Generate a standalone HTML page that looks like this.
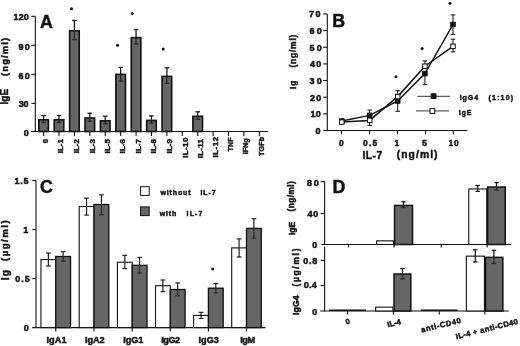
<!DOCTYPE html>
<html><head><meta charset="utf-8"><style>
html,body{margin:0;padding:0;background:#fff;}
svg{display:block;filter:blur(0.35px);}
text{font-family:"Liberation Sans", sans-serif;font-weight:bold;fill:#111;}
</style></head><body>
<svg width="520" height="346" viewBox="0 0 520 346">
<rect width="520" height="346" fill="#fff"/>
<line x1="35.30" y1="16.30" x2="35.30" y2="132.00" stroke="#111" stroke-width="1.1"/>
<line x1="31.40" y1="131.50" x2="268.00" y2="131.50" stroke="#111" stroke-width="1.1"/>
<line x1="31.30" y1="16.30" x2="35.30" y2="16.30" stroke="#111" stroke-width="1.1"/>
<line x1="31.30" y1="45.30" x2="35.30" y2="45.30" stroke="#111" stroke-width="1.1"/>
<line x1="31.30" y1="74.40" x2="35.30" y2="74.40" stroke="#111" stroke-width="1.1"/>
<line x1="31.30" y1="103.40" x2="35.30" y2="103.40" stroke="#111" stroke-width="1.1"/>
<line x1="43.60" y1="131.50" x2="43.60" y2="136.00" stroke="#111" stroke-width="1.1"/>
<rect x="38.80" y="119.80" width="9.60" height="11.70" fill="#666666" stroke="#111" stroke-width="1.6"/>
<line x1="43.60" y1="119.80" x2="43.60" y2="115.50" stroke="#111" stroke-width="1.25"/>
<line x1="41.30" y1="115.50" x2="45.90" y2="115.50" stroke="#111" stroke-width="1.25"/>
<line x1="43.60" y1="119.80" x2="43.60" y2="122.50" stroke="#262626" stroke-width="1.25"/>
<line x1="41.30" y1="122.50" x2="45.90" y2="122.50" stroke="#262626" stroke-width="1.25"/>
<line x1="59.01" y1="131.50" x2="59.01" y2="136.00" stroke="#111" stroke-width="1.1"/>
<rect x="54.21" y="119.80" width="9.60" height="11.70" fill="#666666" stroke="#111" stroke-width="1.6"/>
<line x1="59.01" y1="119.80" x2="59.01" y2="115.50" stroke="#111" stroke-width="1.25"/>
<line x1="56.71" y1="115.50" x2="61.31" y2="115.50" stroke="#111" stroke-width="1.25"/>
<line x1="59.01" y1="119.80" x2="59.01" y2="122.50" stroke="#262626" stroke-width="1.25"/>
<line x1="56.71" y1="122.50" x2="61.31" y2="122.50" stroke="#262626" stroke-width="1.25"/>
<line x1="74.42" y1="131.50" x2="74.42" y2="136.00" stroke="#111" stroke-width="1.1"/>
<rect x="69.62" y="30.80" width="9.60" height="100.70" fill="#666666" stroke="#111" stroke-width="1.6"/>
<line x1="74.42" y1="30.80" x2="74.42" y2="20.50" stroke="#111" stroke-width="1.25"/>
<line x1="72.12" y1="20.50" x2="76.72" y2="20.50" stroke="#111" stroke-width="1.25"/>
<line x1="74.42" y1="30.80" x2="74.42" y2="39.70" stroke="#262626" stroke-width="1.25"/>
<line x1="72.12" y1="39.70" x2="76.72" y2="39.70" stroke="#262626" stroke-width="1.25"/>
<line x1="89.83" y1="131.50" x2="89.83" y2="136.00" stroke="#111" stroke-width="1.1"/>
<rect x="85.03" y="118.00" width="9.60" height="13.50" fill="#666666" stroke="#111" stroke-width="1.6"/>
<line x1="89.83" y1="118.00" x2="89.83" y2="113.20" stroke="#111" stroke-width="1.25"/>
<line x1="87.53" y1="113.20" x2="92.13" y2="113.20" stroke="#111" stroke-width="1.25"/>
<line x1="89.83" y1="118.00" x2="89.83" y2="121.20" stroke="#262626" stroke-width="1.25"/>
<line x1="87.53" y1="121.20" x2="92.13" y2="121.20" stroke="#262626" stroke-width="1.25"/>
<line x1="105.24" y1="131.50" x2="105.24" y2="136.00" stroke="#111" stroke-width="1.1"/>
<rect x="100.44" y="120.80" width="9.60" height="10.70" fill="#666666" stroke="#111" stroke-width="1.6"/>
<line x1="105.24" y1="120.80" x2="105.24" y2="116.20" stroke="#111" stroke-width="1.25"/>
<line x1="102.94" y1="116.20" x2="107.54" y2="116.20" stroke="#111" stroke-width="1.25"/>
<line x1="105.24" y1="120.80" x2="105.24" y2="123.80" stroke="#262626" stroke-width="1.25"/>
<line x1="102.94" y1="123.80" x2="107.54" y2="123.80" stroke="#262626" stroke-width="1.25"/>
<line x1="120.65" y1="131.50" x2="120.65" y2="136.00" stroke="#111" stroke-width="1.1"/>
<rect x="115.85" y="74.40" width="9.60" height="57.10" fill="#666666" stroke="#111" stroke-width="1.6"/>
<line x1="120.65" y1="74.40" x2="120.65" y2="67.40" stroke="#111" stroke-width="1.25"/>
<line x1="118.35" y1="67.40" x2="122.95" y2="67.40" stroke="#111" stroke-width="1.25"/>
<line x1="120.65" y1="74.40" x2="120.65" y2="81.10" stroke="#262626" stroke-width="1.25"/>
<line x1="118.35" y1="81.10" x2="122.95" y2="81.10" stroke="#262626" stroke-width="1.25"/>
<line x1="136.06" y1="131.50" x2="136.06" y2="136.00" stroke="#111" stroke-width="1.1"/>
<rect x="131.26" y="37.60" width="9.60" height="93.90" fill="#666666" stroke="#111" stroke-width="1.6"/>
<line x1="136.06" y1="37.60" x2="136.06" y2="29.60" stroke="#111" stroke-width="1.25"/>
<line x1="133.76" y1="29.60" x2="138.36" y2="29.60" stroke="#111" stroke-width="1.25"/>
<line x1="136.06" y1="37.60" x2="136.06" y2="44.00" stroke="#262626" stroke-width="1.25"/>
<line x1="133.76" y1="44.00" x2="138.36" y2="44.00" stroke="#262626" stroke-width="1.25"/>
<line x1="151.47" y1="131.50" x2="151.47" y2="136.00" stroke="#111" stroke-width="1.1"/>
<rect x="146.67" y="120.40" width="9.60" height="11.10" fill="#666666" stroke="#111" stroke-width="1.6"/>
<line x1="151.47" y1="120.40" x2="151.47" y2="115.90" stroke="#111" stroke-width="1.25"/>
<line x1="149.17" y1="115.90" x2="153.77" y2="115.90" stroke="#111" stroke-width="1.25"/>
<line x1="151.47" y1="120.40" x2="151.47" y2="123.30" stroke="#262626" stroke-width="1.25"/>
<line x1="149.17" y1="123.30" x2="153.77" y2="123.30" stroke="#262626" stroke-width="1.25"/>
<line x1="166.88" y1="131.50" x2="166.88" y2="136.00" stroke="#111" stroke-width="1.1"/>
<rect x="162.08" y="76.40" width="9.60" height="55.10" fill="#666666" stroke="#111" stroke-width="1.6"/>
<line x1="166.88" y1="76.40" x2="166.88" y2="67.80" stroke="#111" stroke-width="1.25"/>
<line x1="164.58" y1="67.80" x2="169.18" y2="67.80" stroke="#111" stroke-width="1.25"/>
<line x1="166.88" y1="76.40" x2="166.88" y2="83.40" stroke="#262626" stroke-width="1.25"/>
<line x1="164.58" y1="83.40" x2="169.18" y2="83.40" stroke="#262626" stroke-width="1.25"/>
<line x1="182.29" y1="131.50" x2="182.29" y2="136.00" stroke="#111" stroke-width="1.1"/>
<line x1="197.70" y1="131.50" x2="197.70" y2="136.00" stroke="#111" stroke-width="1.1"/>
<rect x="192.90" y="116.30" width="9.60" height="15.20" fill="#666666" stroke="#111" stroke-width="1.6"/>
<line x1="197.70" y1="116.30" x2="197.70" y2="111.80" stroke="#111" stroke-width="1.25"/>
<line x1="195.40" y1="111.80" x2="200.00" y2="111.80" stroke="#111" stroke-width="1.25"/>
<line x1="197.70" y1="116.30" x2="197.70" y2="119.20" stroke="#262626" stroke-width="1.25"/>
<line x1="195.40" y1="119.20" x2="200.00" y2="119.20" stroke="#262626" stroke-width="1.25"/>
<line x1="213.11" y1="131.50" x2="213.11" y2="136.00" stroke="#111" stroke-width="1.1"/>
<line x1="228.52" y1="131.50" x2="228.52" y2="136.00" stroke="#111" stroke-width="1.1"/>
<line x1="243.93" y1="131.50" x2="243.93" y2="136.00" stroke="#111" stroke-width="1.1"/>
<line x1="259.34" y1="131.50" x2="259.34" y2="136.00" stroke="#111" stroke-width="1.1"/>
<circle cx="71.50" cy="8.70" r="1.5" fill="#111"/>
<circle cx="117.60" cy="45.20" r="1.5" fill="#111"/>
<circle cx="132.30" cy="13.40" r="1.5" fill="#111"/>
<circle cx="163.20" cy="49.10" r="1.5" fill="#111"/>
<line x1="327.30" y1="14.00" x2="327.30" y2="131.00" stroke="#111" stroke-width="1.1"/>
<line x1="323.20" y1="130.50" x2="467.30" y2="130.50" stroke="#111" stroke-width="1.1"/>
<line x1="323.20" y1="113.85" x2="327.30" y2="113.85" stroke="#111" stroke-width="1.1"/>
<line x1="323.20" y1="97.20" x2="327.30" y2="97.20" stroke="#111" stroke-width="1.1"/>
<line x1="323.20" y1="80.55" x2="327.30" y2="80.55" stroke="#111" stroke-width="1.1"/>
<line x1="323.20" y1="63.90" x2="327.30" y2="63.90" stroke="#111" stroke-width="1.1"/>
<line x1="323.20" y1="47.25" x2="327.30" y2="47.25" stroke="#111" stroke-width="1.1"/>
<line x1="323.20" y1="30.60" x2="327.30" y2="30.60" stroke="#111" stroke-width="1.1"/>
<line x1="323.20" y1="13.95" x2="327.30" y2="13.95" stroke="#111" stroke-width="1.1"/>
<line x1="341.50" y1="130.50" x2="341.50" y2="134.40" stroke="#111" stroke-width="1.1"/>
<line x1="369.60" y1="130.50" x2="369.60" y2="134.40" stroke="#111" stroke-width="1.1"/>
<line x1="397.50" y1="130.50" x2="397.50" y2="134.40" stroke="#111" stroke-width="1.1"/>
<line x1="425.60" y1="130.50" x2="425.60" y2="134.40" stroke="#111" stroke-width="1.1"/>
<line x1="453.30" y1="130.50" x2="453.30" y2="134.40" stroke="#111" stroke-width="1.1"/>
<polyline points="341.80,121.00 369.70,115.40 397.70,101.00 424.90,73.60 453.00,24.50" fill="none" stroke="#111" stroke-width="1.5"/>
<polyline points="341.80,122.10 369.70,120.40 397.70,96.60 424.90,66.20 453.00,46.30" fill="none" stroke="#111" stroke-width="1.5"/>
<line x1="369.70" y1="115.40" x2="369.70" y2="110.00" stroke="#111" stroke-width="1.0"/>
<line x1="367.40" y1="110.00" x2="372.00" y2="110.00" stroke="#111" stroke-width="1.0"/>
<line x1="369.70" y1="120.40" x2="369.70" y2="125.40" stroke="#111" stroke-width="1.0"/>
<line x1="367.40" y1="125.40" x2="372.00" y2="125.40" stroke="#111" stroke-width="1.0"/>
<line x1="397.70" y1="96.60" x2="397.70" y2="90.70" stroke="#111" stroke-width="1.0"/>
<line x1="395.40" y1="90.70" x2="400.00" y2="90.70" stroke="#111" stroke-width="1.0"/>
<line x1="397.70" y1="101.00" x2="397.70" y2="111.30" stroke="#111" stroke-width="1.0"/>
<line x1="395.40" y1="111.30" x2="400.00" y2="111.30" stroke="#111" stroke-width="1.0"/>
<line x1="424.90" y1="66.20" x2="424.90" y2="60.90" stroke="#111" stroke-width="1.0"/>
<line x1="422.60" y1="60.90" x2="427.20" y2="60.90" stroke="#111" stroke-width="1.0"/>
<line x1="424.90" y1="73.60" x2="424.90" y2="84.70" stroke="#111" stroke-width="1.0"/>
<line x1="422.60" y1="84.70" x2="427.20" y2="84.70" stroke="#111" stroke-width="1.0"/>
<line x1="453.00" y1="24.50" x2="453.00" y2="14.90" stroke="#111" stroke-width="1.0"/>
<line x1="450.70" y1="14.90" x2="455.30" y2="14.90" stroke="#111" stroke-width="1.0"/>
<line x1="453.00" y1="24.50" x2="453.00" y2="34.40" stroke="#111" stroke-width="1.0"/>
<line x1="450.70" y1="34.40" x2="455.30" y2="34.40" stroke="#111" stroke-width="1.0"/>
<line x1="453.00" y1="46.30" x2="453.00" y2="39.20" stroke="#111" stroke-width="1.0"/>
<line x1="450.70" y1="39.20" x2="455.30" y2="39.20" stroke="#111" stroke-width="1.0"/>
<line x1="453.00" y1="46.30" x2="453.00" y2="51.90" stroke="#111" stroke-width="1.0"/>
<line x1="450.70" y1="51.90" x2="455.30" y2="51.90" stroke="#111" stroke-width="1.0"/>
<rect x="339.55" y="118.75" width="4.50" height="4.50" fill="#111" stroke="#111" stroke-width="1.0"/>
<rect x="367.45" y="113.15" width="4.50" height="4.50" fill="#111" stroke="#111" stroke-width="1.0"/>
<rect x="395.45" y="98.75" width="4.50" height="4.50" fill="#111" stroke="#111" stroke-width="1.0"/>
<rect x="422.65" y="71.35" width="4.50" height="4.50" fill="#111" stroke="#111" stroke-width="1.0"/>
<rect x="450.75" y="22.25" width="4.50" height="4.50" fill="#111" stroke="#111" stroke-width="1.0"/>
<rect x="339.55" y="119.85" width="4.50" height="4.50" fill="#fff" stroke="#111" stroke-width="1.0"/>
<rect x="367.45" y="118.15" width="4.50" height="4.50" fill="#fff" stroke="#111" stroke-width="1.0"/>
<rect x="395.45" y="94.35" width="4.50" height="4.50" fill="#fff" stroke="#111" stroke-width="1.0"/>
<rect x="422.65" y="63.95" width="4.50" height="4.50" fill="#fff" stroke="#111" stroke-width="1.0"/>
<rect x="450.75" y="44.05" width="4.50" height="4.50" fill="#fff" stroke="#111" stroke-width="1.0"/>
<circle cx="395.90" cy="76.70" r="1.5" fill="#111"/>
<circle cx="422.10" cy="48.50" r="1.5" fill="#111"/>
<circle cx="450.00" cy="3.30" r="1.5" fill="#111"/>
<line x1="417.40" y1="96.30" x2="450.10" y2="96.30" stroke="#333" stroke-width="1.0"/>
<rect x="431.20" y="93.80" width="4.70" height="4.70" fill="#111" stroke="#111" stroke-width="1.0"/>
<line x1="416.10" y1="110.90" x2="449.00" y2="110.90" stroke="#333" stroke-width="1.0"/>
<rect x="430.00" y="108.60" width="4.80" height="4.80" fill="#fff" stroke="#111" stroke-width="1.0"/>
<line x1="36.00" y1="180.50" x2="36.00" y2="328.10" stroke="#111" stroke-width="1.1"/>
<line x1="32.20" y1="327.60" x2="265.50" y2="327.60" stroke="#111" stroke-width="1.1"/>
<line x1="32.20" y1="278.57" x2="36.00" y2="278.57" stroke="#111" stroke-width="1.1"/>
<line x1="32.20" y1="229.54" x2="36.00" y2="229.54" stroke="#111" stroke-width="1.1"/>
<line x1="32.20" y1="180.51" x2="36.00" y2="180.51" stroke="#111" stroke-width="1.1"/>
<line x1="55.75" y1="327.60" x2="55.75" y2="331.60" stroke="#111" stroke-width="1.1"/>
<rect x="40.95" y="259.60" width="14.80" height="68.00" fill="#fff" stroke="#111" stroke-width="1.1"/>
<rect x="55.75" y="256.50" width="14.80" height="71.10" fill="#666666" stroke="#111" stroke-width="1.3"/>
<line x1="48.35" y1="259.60" x2="48.35" y2="253.00" stroke="#111" stroke-width="1.1"/>
<line x1="45.95" y1="253.00" x2="50.75" y2="253.00" stroke="#111" stroke-width="1.1"/>
<line x1="48.35" y1="259.60" x2="48.35" y2="266.00" stroke="#111" stroke-width="1.1"/>
<line x1="45.95" y1="266.00" x2="50.75" y2="266.00" stroke="#111" stroke-width="1.1"/>
<line x1="63.15" y1="256.50" x2="63.15" y2="251.80" stroke="#111" stroke-width="1.1"/>
<line x1="60.75" y1="251.80" x2="65.55" y2="251.80" stroke="#111" stroke-width="1.1"/>
<line x1="63.15" y1="256.50" x2="63.15" y2="261.20" stroke="#262626" stroke-width="1.1"/>
<line x1="60.75" y1="261.20" x2="65.55" y2="261.20" stroke="#262626" stroke-width="1.1"/>
<line x1="94.00" y1="327.60" x2="94.00" y2="331.60" stroke="#111" stroke-width="1.1"/>
<rect x="79.20" y="206.50" width="14.80" height="121.10" fill="#fff" stroke="#111" stroke-width="1.1"/>
<rect x="94.00" y="204.50" width="14.80" height="123.10" fill="#666666" stroke="#111" stroke-width="1.3"/>
<line x1="86.60" y1="206.50" x2="86.60" y2="198.10" stroke="#111" stroke-width="1.1"/>
<line x1="84.20" y1="198.10" x2="89.00" y2="198.10" stroke="#111" stroke-width="1.1"/>
<line x1="86.60" y1="206.50" x2="86.60" y2="215.10" stroke="#111" stroke-width="1.1"/>
<line x1="84.20" y1="215.10" x2="89.00" y2="215.10" stroke="#111" stroke-width="1.1"/>
<line x1="101.40" y1="204.50" x2="101.40" y2="194.90" stroke="#111" stroke-width="1.1"/>
<line x1="99.00" y1="194.90" x2="103.80" y2="194.90" stroke="#111" stroke-width="1.1"/>
<line x1="101.40" y1="204.50" x2="101.40" y2="214.80" stroke="#262626" stroke-width="1.1"/>
<line x1="99.00" y1="214.80" x2="103.80" y2="214.80" stroke="#262626" stroke-width="1.1"/>
<line x1="132.20" y1="327.60" x2="132.20" y2="331.60" stroke="#111" stroke-width="1.1"/>
<rect x="117.40" y="262.20" width="14.80" height="65.40" fill="#fff" stroke="#111" stroke-width="1.1"/>
<rect x="132.20" y="265.30" width="14.80" height="62.30" fill="#666666" stroke="#111" stroke-width="1.3"/>
<line x1="124.80" y1="262.20" x2="124.80" y2="255.30" stroke="#111" stroke-width="1.1"/>
<line x1="122.40" y1="255.30" x2="127.20" y2="255.30" stroke="#111" stroke-width="1.1"/>
<line x1="124.80" y1="262.20" x2="124.80" y2="268.60" stroke="#111" stroke-width="1.1"/>
<line x1="122.40" y1="268.60" x2="127.20" y2="268.60" stroke="#111" stroke-width="1.1"/>
<line x1="139.60" y1="265.30" x2="139.60" y2="257.40" stroke="#111" stroke-width="1.1"/>
<line x1="137.20" y1="257.40" x2="142.00" y2="257.40" stroke="#111" stroke-width="1.1"/>
<line x1="139.60" y1="265.30" x2="139.60" y2="273.00" stroke="#262626" stroke-width="1.1"/>
<line x1="137.20" y1="273.00" x2="142.00" y2="273.00" stroke="#262626" stroke-width="1.1"/>
<line x1="170.30" y1="327.60" x2="170.30" y2="331.60" stroke="#111" stroke-width="1.1"/>
<rect x="155.50" y="285.70" width="14.80" height="41.90" fill="#fff" stroke="#111" stroke-width="1.1"/>
<rect x="170.30" y="289.50" width="14.80" height="38.10" fill="#666666" stroke="#111" stroke-width="1.3"/>
<line x1="162.90" y1="285.70" x2="162.90" y2="280.00" stroke="#111" stroke-width="1.1"/>
<line x1="160.50" y1="280.00" x2="165.30" y2="280.00" stroke="#111" stroke-width="1.1"/>
<line x1="162.90" y1="285.70" x2="162.90" y2="291.70" stroke="#111" stroke-width="1.1"/>
<line x1="160.50" y1="291.70" x2="165.30" y2="291.70" stroke="#111" stroke-width="1.1"/>
<line x1="177.70" y1="289.50" x2="177.70" y2="282.90" stroke="#111" stroke-width="1.1"/>
<line x1="175.30" y1="282.90" x2="180.10" y2="282.90" stroke="#111" stroke-width="1.1"/>
<line x1="177.70" y1="289.50" x2="177.70" y2="295.90" stroke="#262626" stroke-width="1.1"/>
<line x1="175.30" y1="295.90" x2="180.10" y2="295.90" stroke="#262626" stroke-width="1.1"/>
<line x1="208.40" y1="327.60" x2="208.40" y2="331.60" stroke="#111" stroke-width="1.1"/>
<rect x="193.60" y="315.40" width="14.80" height="12.20" fill="#fff" stroke="#111" stroke-width="1.1"/>
<rect x="208.40" y="288.20" width="14.80" height="39.40" fill="#666666" stroke="#111" stroke-width="1.3"/>
<line x1="201.00" y1="315.40" x2="201.00" y2="312.30" stroke="#111" stroke-width="1.1"/>
<line x1="198.60" y1="312.30" x2="203.40" y2="312.30" stroke="#111" stroke-width="1.1"/>
<line x1="201.00" y1="315.40" x2="201.00" y2="318.50" stroke="#111" stroke-width="1.1"/>
<line x1="198.60" y1="318.50" x2="203.40" y2="318.50" stroke="#111" stroke-width="1.1"/>
<line x1="215.80" y1="288.20" x2="215.80" y2="283.50" stroke="#111" stroke-width="1.1"/>
<line x1="213.40" y1="283.50" x2="218.20" y2="283.50" stroke="#111" stroke-width="1.1"/>
<line x1="215.80" y1="288.20" x2="215.80" y2="292.90" stroke="#262626" stroke-width="1.1"/>
<line x1="213.40" y1="292.90" x2="218.20" y2="292.90" stroke="#262626" stroke-width="1.1"/>
<line x1="246.50" y1="327.60" x2="246.50" y2="331.60" stroke="#111" stroke-width="1.1"/>
<rect x="231.70" y="247.90" width="14.80" height="79.70" fill="#fff" stroke="#111" stroke-width="1.1"/>
<rect x="246.50" y="228.40" width="14.80" height="99.20" fill="#666666" stroke="#111" stroke-width="1.3"/>
<line x1="239.10" y1="247.90" x2="239.10" y2="238.90" stroke="#111" stroke-width="1.1"/>
<line x1="236.70" y1="238.90" x2="241.50" y2="238.90" stroke="#111" stroke-width="1.1"/>
<line x1="239.10" y1="247.90" x2="239.10" y2="257.00" stroke="#111" stroke-width="1.1"/>
<line x1="236.70" y1="257.00" x2="241.50" y2="257.00" stroke="#111" stroke-width="1.1"/>
<line x1="253.90" y1="228.40" x2="253.90" y2="218.70" stroke="#111" stroke-width="1.1"/>
<line x1="251.50" y1="218.70" x2="256.30" y2="218.70" stroke="#111" stroke-width="1.1"/>
<line x1="253.90" y1="228.40" x2="253.90" y2="238.20" stroke="#262626" stroke-width="1.1"/>
<line x1="251.50" y1="238.20" x2="256.30" y2="238.20" stroke="#262626" stroke-width="1.1"/>
<circle cx="212.70" cy="269.00" r="1.5" fill="#111"/>
<rect x="140.60" y="186.70" width="8.60" height="8.70" fill="#fff" stroke="#111" stroke-width="1.0"/>
<rect x="140.60" y="206.90" width="8.60" height="8.70" fill="#666666" stroke="#111" stroke-width="1.0"/>
<line x1="324.60" y1="181.50" x2="324.60" y2="245.00" stroke="#111" stroke-width="1.1"/>
<line x1="321.40" y1="244.50" x2="511.00" y2="244.50" stroke="#111" stroke-width="1.2"/>
<line x1="320.60" y1="181.70" x2="324.60" y2="181.70" stroke="#111" stroke-width="1.1"/>
<line x1="320.60" y1="213.60" x2="324.60" y2="213.60" stroke="#111" stroke-width="1.1"/>
<line x1="348.50" y1="244.50" x2="348.50" y2="247.50" stroke="#111" stroke-width="1.1"/>
<line x1="394.00" y1="244.50" x2="394.00" y2="247.50" stroke="#111" stroke-width="1.1"/>
<line x1="441.20" y1="244.50" x2="441.20" y2="247.50" stroke="#111" stroke-width="1.1"/>
<line x1="487.10" y1="244.50" x2="487.10" y2="247.50" stroke="#111" stroke-width="1.1"/>
<rect x="376.65" y="240.85" width="16.80" height="3.65" fill="#fff" stroke="#111" stroke-width="1.1"/>
<rect x="394.55" y="205.45" width="18.00" height="39.05" fill="#666666" stroke="#111" stroke-width="1.5"/>
<line x1="403.50" y1="205.40" x2="403.50" y2="201.80" stroke="#111" stroke-width="1.2"/>
<line x1="401.30" y1="201.80" x2="405.70" y2="201.80" stroke="#111" stroke-width="1.2"/>
<line x1="403.50" y1="205.40" x2="403.50" y2="207.60" stroke="#262626" stroke-width="1.2"/>
<line x1="401.30" y1="207.60" x2="405.70" y2="207.60" stroke="#262626" stroke-width="1.2"/>
<rect x="468.75" y="188.95" width="18.00" height="55.55" fill="#fff" stroke="#111" stroke-width="1.1"/>
<line x1="477.70" y1="189.00" x2="477.70" y2="185.40" stroke="#111" stroke-width="1.2"/>
<line x1="475.50" y1="185.40" x2="479.90" y2="185.40" stroke="#111" stroke-width="1.2"/>
<line x1="477.70" y1="189.00" x2="477.70" y2="191.40" stroke="#111" stroke-width="1.2"/>
<line x1="475.50" y1="191.40" x2="479.90" y2="191.40" stroke="#111" stroke-width="1.2"/>
<rect x="487.65" y="187.05" width="17.60" height="57.45" fill="#666666" stroke="#111" stroke-width="1.5"/>
<line x1="496.50" y1="187.00" x2="496.50" y2="182.60" stroke="#111" stroke-width="1.2"/>
<line x1="494.30" y1="182.60" x2="498.70" y2="182.60" stroke="#111" stroke-width="1.2"/>
<line x1="496.50" y1="187.00" x2="496.50" y2="190.00" stroke="#262626" stroke-width="1.2"/>
<line x1="494.30" y1="190.00" x2="498.70" y2="190.00" stroke="#262626" stroke-width="1.2"/>
<line x1="324.60" y1="246.50" x2="324.60" y2="311.50" stroke="#111" stroke-width="1.1"/>
<line x1="320.30" y1="311.00" x2="508.70" y2="311.00" stroke="#111" stroke-width="1.2"/>
<line x1="320.60" y1="260.30" x2="324.60" y2="260.30" stroke="#111" stroke-width="1.1"/>
<line x1="320.60" y1="285.60" x2="324.60" y2="285.60" stroke="#111" stroke-width="1.1"/>
<line x1="347.60" y1="311.00" x2="347.60" y2="314.50" stroke="#111" stroke-width="1.1"/>
<line x1="393.40" y1="311.00" x2="393.40" y2="314.50" stroke="#111" stroke-width="1.1"/>
<line x1="439.30" y1="311.00" x2="439.30" y2="314.50" stroke="#111" stroke-width="1.1"/>
<line x1="484.80" y1="311.00" x2="484.80" y2="314.50" stroke="#111" stroke-width="1.1"/>
<line x1="329.10" y1="310.20" x2="366.00" y2="310.20" stroke="#111" stroke-width="1.5"/>
<line x1="420.80" y1="310.20" x2="457.70" y2="310.20" stroke="#111" stroke-width="1.5"/>
<rect x="375.65" y="307.15" width="17.30" height="3.85" fill="#fff" stroke="#111" stroke-width="1.1"/>
<rect x="394.05" y="274.05" width="16.80" height="36.95" fill="#666666" stroke="#111" stroke-width="1.5"/>
<line x1="402.50" y1="274.00" x2="402.50" y2="268.50" stroke="#111" stroke-width="1.2"/>
<line x1="400.20" y1="268.50" x2="404.80" y2="268.50" stroke="#111" stroke-width="1.2"/>
<line x1="402.50" y1="274.00" x2="402.50" y2="278.80" stroke="#262626" stroke-width="1.2"/>
<line x1="400.20" y1="278.80" x2="404.80" y2="278.80" stroke="#262626" stroke-width="1.2"/>
<rect x="466.35" y="256.15" width="18.10" height="54.85" fill="#fff" stroke="#111" stroke-width="1.1"/>
<line x1="475.30" y1="256.20" x2="475.30" y2="249.80" stroke="#111" stroke-width="1.2"/>
<line x1="473.00" y1="249.80" x2="477.60" y2="249.80" stroke="#111" stroke-width="1.2"/>
<line x1="475.30" y1="256.20" x2="475.30" y2="261.90" stroke="#111" stroke-width="1.2"/>
<line x1="473.00" y1="261.90" x2="477.60" y2="261.90" stroke="#111" stroke-width="1.2"/>
<rect x="485.55" y="257.35" width="17.30" height="53.65" fill="#666666" stroke="#111" stroke-width="1.5"/>
<line x1="493.90" y1="257.30" x2="493.90" y2="250.30" stroke="#111" stroke-width="1.2"/>
<line x1="491.60" y1="250.30" x2="496.20" y2="250.30" stroke="#111" stroke-width="1.2"/>
<line x1="493.90" y1="257.30" x2="493.90" y2="263.50" stroke="#262626" stroke-width="1.2"/>
<line x1="491.60" y1="263.50" x2="496.20" y2="263.50" stroke="#262626" stroke-width="1.2"/>
<text font-size="8.20" textLength="13.76" lengthAdjust="spacing" stroke="#111" stroke-width="0.45" transform="translate(13.60 20.35) scale(1.100 1)">120</text>
<text font-size="8.20" textLength="10.23" lengthAdjust="spacing" stroke="#111" stroke-width="0.45" transform="translate(18.40 49.50) scale(1.100 1)">90</text>
<text font-size="8.20" textLength="10.23" lengthAdjust="spacing" stroke="#111" stroke-width="0.45" transform="translate(18.40 78.85) scale(1.100 1)">60</text>
<text font-size="8.20" textLength="8.92" lengthAdjust="spacing" stroke="#111" stroke-width="0.45" transform="translate(18.70 107.45) scale(1.100 1)">30</text>
<text font-size="8.20" stroke="#111" stroke-width="0.45" transform="translate(23.70 135.85) scale(1.100 1)">0</text>
<text font-size="17.80" stroke="#111" stroke-width="0.45" transform="translate(40.05 27.65)">A</text>
<text font-size="10.00" textLength="15.68" lengthAdjust="spacing" stroke="#111" stroke-width="0.45" transform="translate(8.45 104.60) rotate(-90)">IgE</text>
<text font-size="9.40" textLength="38.02" lengthAdjust="spacing" stroke="#111" stroke-width="0.45" transform="translate(8.20 75.95) rotate(-90)">(ng/ml)</text>
<text font-size="8.00" stroke="#111" stroke-width="0.45" transform="translate(47.90 143.35) rotate(-90)">0</text>
<text font-size="8.00" textLength="14.10" lengthAdjust="spacing" stroke="#111" stroke-width="0.45" transform="translate(63.00 153.15) rotate(-90)">IL-1</text>
<text font-size="8.00" textLength="14.10" lengthAdjust="spacing" stroke="#111" stroke-width="0.45" transform="translate(79.25 153.15) rotate(-90)">IL-2</text>
<text font-size="8.00" textLength="14.10" lengthAdjust="spacing" stroke="#111" stroke-width="0.45" transform="translate(94.80 153.15) rotate(-90)">IL-3</text>
<text font-size="8.00" textLength="14.40" lengthAdjust="spacing" stroke="#111" stroke-width="0.45" transform="translate(109.70 153.40) rotate(-90)">IL-5</text>
<text font-size="8.00" textLength="14.40" lengthAdjust="spacing" stroke="#111" stroke-width="0.45" transform="translate(125.10 153.40) rotate(-90)">IL-6</text>
<text font-size="8.00" textLength="14.40" lengthAdjust="spacing" stroke="#111" stroke-width="0.45" transform="translate(141.20 153.40) rotate(-90)">IL-7</text>
<text font-size="8.00" textLength="14.40" lengthAdjust="spacing" stroke="#111" stroke-width="0.45" transform="translate(156.20 153.40) rotate(-90)">IL-8</text>
<text font-size="8.00" textLength="14.40" lengthAdjust="spacing" stroke="#111" stroke-width="0.45" transform="translate(171.95 153.40) rotate(-90)">IL-9</text>
<text font-size="8.00" textLength="20.10" lengthAdjust="spacing" stroke="#111" stroke-width="0.45" transform="translate(187.60 157.75) rotate(-90)">IL-10</text>
<text font-size="8.00" textLength="19.10" lengthAdjust="spacing" stroke="#111" stroke-width="0.45" transform="translate(202.60 158.25) rotate(-90)">IL-11</text>
<text font-size="8.00" textLength="20.60" lengthAdjust="spacing" stroke="#111" stroke-width="0.45" transform="translate(217.80 157.50) rotate(-90)">IL-12</text>
<text font-size="8.00" textLength="15.79" lengthAdjust="spacing" stroke="#111" stroke-width="0.45" transform="translate(233.20 151.40) rotate(-90) scale(0.880 1)">TNF</text>
<text font-size="8.00" textLength="17.74" lengthAdjust="spacing" stroke="#111" stroke-width="0.45" transform="translate(247.60 154.30) rotate(-90) scale(0.900 1)">IFNg</text>
<text font-size="8.00" textLength="21.42" lengthAdjust="spacing" stroke="#111" stroke-width="0.45" transform="translate(263.50 156.00) rotate(-90) scale(0.900 1)">TGFb</text>
<text font-size="8.20" textLength="10.35" lengthAdjust="spacing" stroke="#111" stroke-width="0.45" transform="translate(309.10 17.45) scale(1.100 1)">70</text>
<text font-size="8.20" textLength="11.26" lengthAdjust="spacing" stroke="#111" stroke-width="0.45" transform="translate(309.40 33.50) scale(1.100 1)">60</text>
<text font-size="8.20" textLength="11.26" lengthAdjust="spacing" stroke="#111" stroke-width="0.45" transform="translate(309.40 50.70) scale(1.100 1)">50</text>
<text font-size="8.20" textLength="10.35" lengthAdjust="spacing" stroke="#111" stroke-width="0.45" transform="translate(309.90 66.90) scale(1.100 1)">40</text>
<text font-size="8.20" textLength="11.26" lengthAdjust="spacing" stroke="#111" stroke-width="0.45" transform="translate(309.40 84.10) scale(1.100 1)">30</text>
<text font-size="8.20" textLength="10.27" lengthAdjust="spacing" stroke="#111" stroke-width="0.45" transform="translate(309.90 100.90) scale(1.100 1)">20</text>
<text font-size="8.20" textLength="9.44" lengthAdjust="spacing" stroke="#111" stroke-width="0.45" transform="translate(310.40 117.35) scale(1.100 1)">10</text>
<text font-size="8.20" stroke="#111" stroke-width="0.45" transform="translate(315.60 133.70) scale(1.100 1)">0</text>
<text font-size="17.80" stroke="#111" stroke-width="0.45" transform="translate(332.30 27.30)">B</text>
<text font-size="8.50" textLength="8.44" lengthAdjust="spacing" stroke="#111" stroke-width="0.45" transform="translate(296.10 89.00) rotate(-90)">Ig</text>
<text font-size="8.40" textLength="32.84" lengthAdjust="spacing" stroke="#111" stroke-width="0.45" transform="translate(295.60 67.50) rotate(-90)">(ng/ml)</text>
<text font-size="8.40" stroke="#111" stroke-width="0.45" transform="translate(339.12 145.65)">0</text>
<text font-size="8.40" textLength="14.12" lengthAdjust="spacing" stroke="#111" stroke-width="0.45" transform="translate(363.10 145.65)">0.5</text>
<text font-size="8.40" stroke="#111" stroke-width="0.45" transform="translate(394.38 145.65)">1</text>
<text font-size="8.40" stroke="#111" stroke-width="0.45" transform="translate(422.25 145.65)">5</text>
<text font-size="8.40" textLength="10.10" lengthAdjust="spacing" stroke="#111" stroke-width="0.45" transform="translate(448.50 145.65)">10</text>
<text font-size="10.30" textLength="19.72" lengthAdjust="spacing" stroke="#111" stroke-width="0.45" transform="translate(362.50 159.20)">IL-7</text>
<text font-size="10.30" textLength="40.76" lengthAdjust="spacing" stroke="#111" stroke-width="0.45" transform="translate(396.75 158.40)">(ng/ml)</text>
<text font-size="7.00" textLength="18.30" lengthAdjust="spacing" stroke="#111" stroke-width="0.45" transform="translate(459.75 100.42)">IgG4</text>
<text font-size="7.00" textLength="24.45" lengthAdjust="spacing" stroke="#111" stroke-width="0.45" transform="translate(488.62 100.40)">(1:10)</text>
<text font-size="7.00" textLength="12.70" lengthAdjust="spacing" stroke="#111" stroke-width="0.45" transform="translate(458.85 114.90)">IgE</text>
<text font-size="8.20" textLength="12.86" lengthAdjust="spacing" stroke="#111" stroke-width="0.45" transform="translate(14.45 183.80) scale(1.100 1)">1.5</text>
<text font-size="8.20" stroke="#111" stroke-width="0.45" transform="translate(23.20 232.70) scale(1.100 1)">1</text>
<text font-size="8.20" textLength="13.38" lengthAdjust="spacing" stroke="#111" stroke-width="0.45" transform="translate(15.15 282.10) scale(1.100 1)">0.5</text>
<text font-size="8.20" stroke="#111" stroke-width="0.45" transform="translate(23.70 330.90) scale(1.100 1)">0</text>
<text font-size="17.80" stroke="#111" stroke-width="0.45" transform="translate(40.10 193.45)">C</text>
<text font-size="10.20" textLength="10.14" lengthAdjust="spacing" stroke="#111" stroke-width="0.45" transform="translate(8.60 280.15) rotate(-90)">Ig</text>
<text font-size="9.60" textLength="40.64" lengthAdjust="spacing" stroke="#111" stroke-width="0.45" transform="translate(8.05 261.00) rotate(-90)">(µg/ml)</text>
<text font-size="9.20" textLength="20.18" lengthAdjust="spacing" stroke="#111" stroke-width="0.45" transform="translate(46.45 343.10)">IgA1</text>
<text font-size="9.20" textLength="19.58" lengthAdjust="spacing" stroke="#111" stroke-width="0.45" transform="translate(84.95 343.10)">IgA2</text>
<text font-size="9.20" textLength="19.98" lengthAdjust="spacing" stroke="#111" stroke-width="0.45" transform="translate(123.35 343.10)">IgG1</text>
<text font-size="9.20" textLength="18.98" lengthAdjust="spacing" stroke="#111" stroke-width="0.45" transform="translate(161.25 343.10)">IgG2</text>
<text font-size="9.20" textLength="20.38" lengthAdjust="spacing" stroke="#111" stroke-width="0.45" transform="translate(198.55 343.10)">IgG3</text>
<text font-size="9.20" textLength="14.76" lengthAdjust="spacing" stroke="#111" stroke-width="0.45" transform="translate(240.30 343.10)">IgM</text>
<text font-size="7.00" textLength="30.15" lengthAdjust="spacing" stroke="#111" stroke-width="0.45" transform="translate(160.38 195.00)">without</text>
<text font-size="7.00" textLength="15.20" lengthAdjust="spacing" stroke="#111" stroke-width="0.45" transform="translate(200.40 195.00)">IL-7</text>
<text font-size="7.00" textLength="16.45" lengthAdjust="spacing" stroke="#111" stroke-width="0.45" transform="translate(159.82 216.00)">with</text>
<text font-size="7.00" textLength="15.95" lengthAdjust="spacing" stroke="#111" stroke-width="0.45" transform="translate(186.57 216.00)">IL-7</text>
<text font-size="8.20" textLength="10.74" lengthAdjust="spacing" stroke="#111" stroke-width="0.45" transform="translate(306.90 185.65) scale(1.100 1)">80</text>
<text font-size="8.20" textLength="9.83" lengthAdjust="spacing" stroke="#111" stroke-width="0.45" transform="translate(307.40 216.75) scale(1.100 1)">40</text>
<text font-size="8.20" stroke="#111" stroke-width="0.45" transform="translate(312.30 247.80) scale(1.100 1)">0</text>
<text font-size="8.20" textLength="12.66" lengthAdjust="spacing" stroke="#111" stroke-width="0.45" transform="translate(303.35 263.80) scale(1.100 1)">0.8</text>
<text font-size="8.20" textLength="11.76" lengthAdjust="spacing" stroke="#111" stroke-width="0.45" transform="translate(303.85 288.40) scale(1.100 1)">0.4</text>
<text font-size="8.20" stroke="#111" stroke-width="0.45" transform="translate(312.30 314.60) scale(1.100 1)">0</text>
<text font-size="17.80" stroke="#111" stroke-width="0.45" transform="translate(332.55 193.45)">D</text>
<text font-size="8.60" textLength="13.48" lengthAdjust="spacing" stroke="#111" stroke-width="0.45" transform="translate(295.00 235.10) rotate(-90)">IgE</text>
<text font-size="8.20" textLength="30.22" lengthAdjust="spacing" stroke="#111" stroke-width="0.45" transform="translate(294.10 211.55) rotate(-90)">(ng/ml)</text>
<text font-size="8.60" textLength="19.54" lengthAdjust="spacing" stroke="#111" stroke-width="0.45" transform="translate(298.80 314.95) rotate(-90)">IgG4</text>
<text font-size="8.40" textLength="38.02" lengthAdjust="spacing" stroke="#111" stroke-width="0.45" transform="translate(299.15 286.55) rotate(-90)">(µg/ml)</text>
<text font-size="7.60" stroke="#111" stroke-width="0.45" transform="translate(346.35 324.40) rotate(-14)">0</text>
<text font-size="7.60" textLength="13.81" lengthAdjust="spacing" stroke="#111" stroke-width="0.45" transform="translate(388.05 327.30) rotate(-14)">IL-4</text>
<text font-size="7.60" textLength="40.73" lengthAdjust="spacing" stroke="#111" stroke-width="0.45" transform="translate(421.85 332.55) rotate(-14)">anti-CD40</text>
<text font-size="7.60" textLength="63.68" lengthAdjust="spacing" stroke="#111" stroke-width="0.45" transform="translate(456.50 339.20) rotate(-14)">IL-4&#160;+&#160;anti-CD40</text>
</svg>
</body></html>
